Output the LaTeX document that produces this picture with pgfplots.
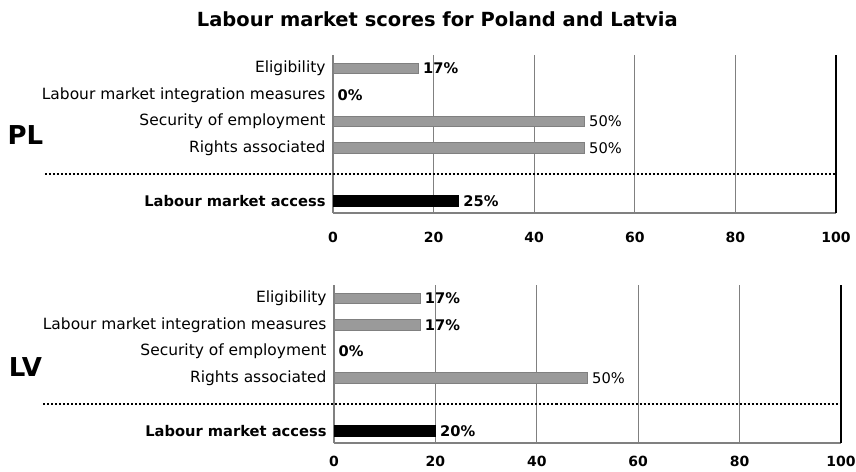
\documentclass[border=0pt]{standalone}
\usepackage{fontspec}
\setmainfont{DejaVu Sans}
\usepackage{pgfplots}
\pgfplotsset{compat=1.18}
\definecolor{bargray}{HTML}{9A9A9A}
\definecolor{baredge}{HTML}{808080}
\definecolor{gridgray}{HTML}{808080}
\pgfplotsset{
  panel/.style={
    scale only axis,
    height=118.5pt,
    anchor=south west,
    xmin=0, xmax=100, ymin=-0.45, ymax=5.5,
    clip=false,
    axis lines*=left,
    axis line style={draw=gridgray, line width=0.8pt},
    xtick={0,20,40,60,80},
    extra x ticks={100},
    extra x tick style={major grid style={black, line width=2.2pt}},
    xmajorgrids,
    major grid style={gridgray, line width=0.8pt},
    major tick length=0pt,
    ytick={0,2,3,4,5},
    yticklabels={{\fontsize{11}{13}\selectfont\textbf{Labour market access}}, Rights associated, Security of employment, Labour market integration measures, Eligibility},
    yticklabel style={font=\fontsize{11.6}{13}\selectfont, xshift=-2.1pt},
    /pgf/number format/assume math mode=true,
  },
  graybar/.style={xbar, bar width=7.8pt, bar shift=0pt, fill=bargray, draw=baredge,
    nodes near coords, point meta=explicit symbolic,
    every node near coord/.append style={font=\fontsize{11}{13}\selectfont, anchor=west, black}},
  blackbar/.style={xbar, bar width=8.4pt, bar shift=0pt, fill=black, draw=black,
    nodes near coords, point meta=explicit symbolic,
    every node near coord/.append style={font=\fontsize{11}{13}\selectfont, anchor=west, black}},
  dotline/.style={sharp plot, no marks, black, line width=1.5pt, dash pattern=on 1.5pt off 1.5pt},
}
\begin{document}
\begin{tikzpicture}[x=1pt,y=1pt]
\useasboundingbox (0,0) rectangle (642,353.25);
\node[font=\bfseries\fontsize{14.6}{16}\selectfont, anchor=base] at (328,333) {Labour market scores for Poland and Latvia};
\node[font=\bfseries\fontsize{19.5}{22}\selectfont] at (19.1,252) {PL};
\node[font=\bfseries\fontsize{19.5}{22}\selectfont] at (19.1,78) {LV};

\begin{axis}[panel, width=377.25pt, at={(249.75pt,193.5pt)},
  xticklabel style={font=\bfseries\fontsize{10.5}{12}\selectfont, yshift=-11pt}]
\addplot[dotline] coordinates {(-57.3,1) (100,1)};
\addplot[graybar] coordinates {(17,5) [\textbf{17\%}] (0,4) [\textbf{0\%}] (50,3) [50\%] (50,2) [50\%]};
\addplot[blackbar] coordinates {(25,0) [\textbf{25\%}]};
\end{axis}

\begin{axis}[panel, width=380.25pt, at={(250.5pt,21pt)},
  xticklabel style={font=\bfseries\fontsize{10.5}{12}\selectfont, yshift=-6.5pt}]
\addplot[dotline] coordinates {(-57.3,1) (100,1)};
\addplot[graybar] coordinates {(17,5) [\textbf{17\%}] (17,4) [\textbf{17\%}] (0,3) [\textbf{0\%}] (50,2) [50\%]};
\addplot[blackbar] coordinates {(20,0) [\textbf{20\%}]};
\end{axis}
\end{tikzpicture}
\end{document}
